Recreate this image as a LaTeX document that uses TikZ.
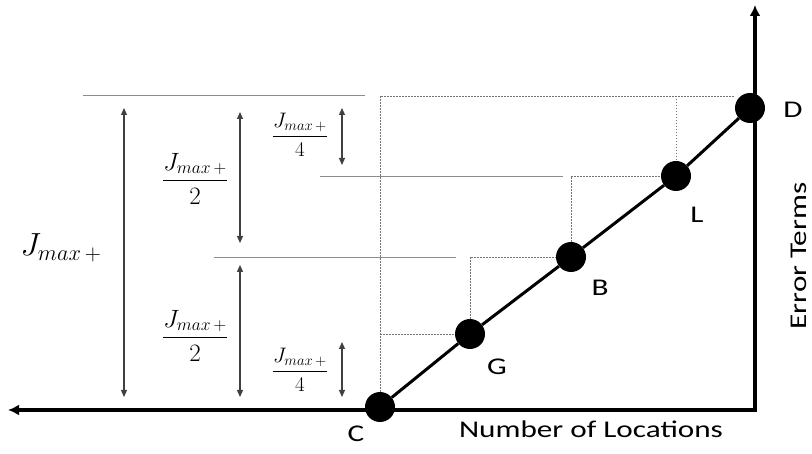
\RequirePackage{fix-cm}
\documentclass[tikz,border=0pt]{standalone}
\usepackage{amsmath}
\usepackage{fontspec}
\newfontfamily\lblfont[FakeStretch=1.3]{Carlito}
\usetikzlibrary{arrows.meta}

\begin{document}
\begin{tikzpicture}[x=1pt,y=1pt,yscale=-1,
    dot/.style={circle,fill=black,inner sep=0pt,minimum size=30pt},
    axisline/.style={line width=3.5pt,{Latex[length=11pt,width=11pt]}-{Latex[length=11pt,width=11pt]}},
    trend/.style={line width=3pt},
    guide/.style={black!55,line width=0.9pt,dash pattern=on 1.5pt off 1.5pt},
    levelline/.style={black!45,line width=1pt},
    span/.style={black!75,line width=1.2pt,{Triangle[length=7pt,width=6pt]}-{Triangle[length=7pt,width=6pt]}},
    tag/.style={font=\lblfont\fontsize{24}{26}\selectfont,inner sep=0pt,anchor=base}]
        \useasboundingbox (0,0) rectangle (812,454);

        % Points on the line
        \node[dot] (C) at (380,407) {};
        \node[dot] (G) at (470,334) {};
        \node[dot] (B) at (571,257) {};
        \node[dot] (L) at (676,176) {};
        \node[dot] (D) at (750,108) {};

        \coordinate (top) at (381,96);
        \coordinate (xend) at (8,410);
        \coordinate (corner) at (755,410);
        \coordinate (yend) at (755,5);

        %Dotted Lines
        \draw[guide] (C) -- (C |- top) -- (top -| D.west);
        \draw[guide] (L |- top) -- (L);
        \draw[guide] (B) -- (B |- L) -- (L);
        \draw[guide] (G) -- (G |- B) -- (B);
        \draw[guide] (C |- G) -- (G);

        %Level Lines
        \coordinate (lv1a) at (83,96);    \coordinate (lv1b) at (365,96);
        \coordinate (lv2a) at (320,177);  \coordinate (lv2b) at (563,177);
        \coordinate (lv3a) at (214,258);  \coordinate (lv3b) at (456,258);
        \draw[levelline] (lv1a) -- (lv1b);
        \draw[levelline] (lv2a) -- (lv2b);
        \draw[levelline] (lv3a) -- (lv3b);

        %Axes
        \draw[axisline] (xend) -- (corner) -- (yend);

        %Straight Lines
        \draw[trend] (C) -- (G) -- (B) -- (L) -- (D);

        %Double Arrows
        \coordinate (s1t) at (124,108);  \coordinate (s1b) at (124,397);
        \coordinate (s2t) at (240,112);  \coordinate (s2b) at (240,243);
        \coordinate (s3t) at (240,265);  \coordinate (s3b) at (240,397);
        \coordinate (s4t) at (342,108);  \coordinate (s4b) at (342,165);
        \coordinate (s5t) at (342,342);  \coordinate (s5b) at (342,397);
        \draw[span] (s1t) -- (s1b);
        \draw[span] (s2t) -- (s2b);
        \draw[span] (s3t) -- (s3b);
        \draw[span] (s4t) -- (s4b);
        \draw[span] (s5t) -- (s5b);

        % Text Node
        \node[inner sep=0pt] (jfull) at (61,248) {\fontsize{32}{36}\selectfont$J_{max\,+}$};
        % Text Node
        \node[inner sep=0pt,anchor=base] (jhalf1) at (195,187) {\fontsize{25}{29}\selectfont$\displaystyle\frac{J_{max\,+}}{2}$};
        % Text Node
        \node[inner sep=0pt,anchor=base] (jhalf2) at (195,344) {\fontsize{25}{29}\selectfont$\displaystyle\frac{J_{max\,+}}{2}$};
        % Text Node
        \node[inner sep=0pt,anchor=base] (jquart1) at (300,142) {\fontsize{21}{25}\selectfont$\displaystyle\frac{J_{max\,+}}{4}$};
        % Text Node
        \node[inner sep=0pt,anchor=base] (jquart2) at (300,377) {\fontsize{21}{25}\selectfont$\displaystyle\frac{J_{max\,+}}{4}$};

        % Text Node
        \node[tag] (labD) at (793,118) {D};
        % Text Node
        \node[tag] (labL) at (697,223) {L};
        % Text Node
        \node[tag] (labB) at (600,296) {B};
        % Text Node
        \node[tag] (labG) at (497,375) {G};
        % Text Node
        \node[tag] (labC) at (356,442) {C};
        % Text Node
        \node[tag] (xlab) at (591,438) {Number of Locations};
        % Text Node
        \node[tag,rotate=90] (ylab) at (806,256) {Error Terms};
\end{tikzpicture}
\end{document}
